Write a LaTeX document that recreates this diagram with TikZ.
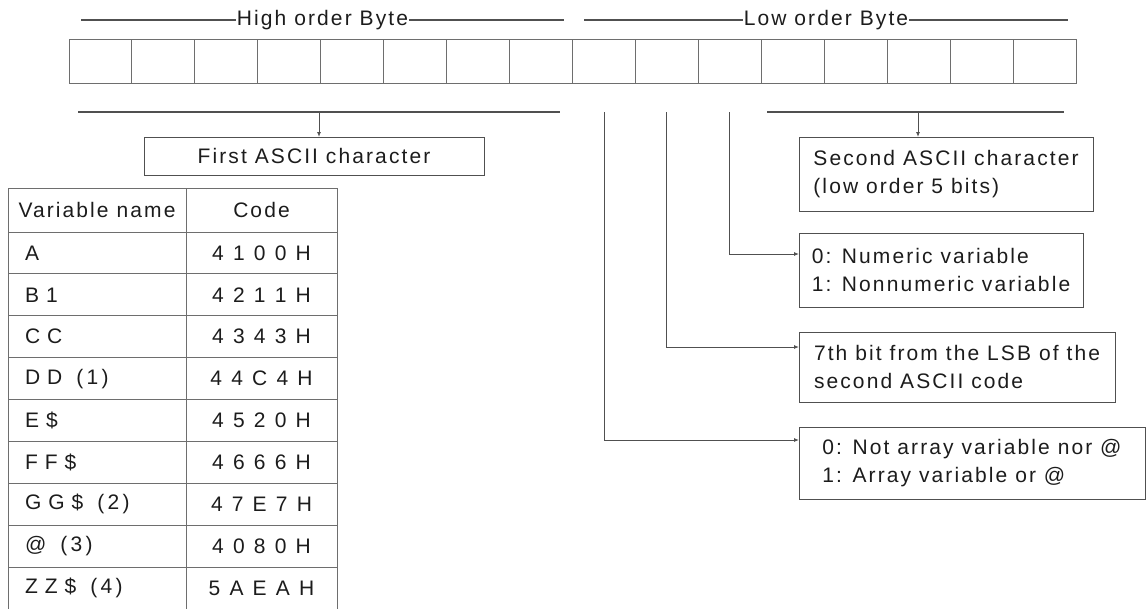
\documentclass[tikz,border=0pt]{standalone}
\usepackage{fontspec}
\setmainfont{Liberation Sans}[LetterSpace=10]
\newfontfamily\tabfont{Liberation Sans}[LetterSpace=16]
\usetikzlibrary{arrows.meta,positioning,calc}
\definecolor{inkline}{HTML}{505050}
\definecolor{gridline}{HTML}{6E6E6E}
\definecolor{inktext}{HTML}{1C1C1C}
\tikzset{
  every node/.style={font=\fontsize{21}{28}\selectfont},
  bitcell/.style={draw=gridline,line width=0.9pt,minimum width=62.94pt,minimum height=44pt,inner sep=0pt,outer sep=0pt},
  bytebar/.style={inkline,line width=1.6pt},
  bytelabel/.style={fill=white,inner xsep=1pt,inner ysep=2pt,text=inktext},
  spanbar/.style={inkline,line width=1.2pt},
  infobox/.style={draw=inkline,line width=0.9pt,align=left,text=inktext,inner sep=0pt,outer sep=0pt},
  tabcell/.style={draw=gridline,line width=0.9pt,inner sep=0pt,outer sep=0pt,anchor=north west,text=inktext},
  namecell/.style={minimum width=178pt,minimum height=41.9pt,text width=144pt,align=left,font=\tabfont\fontsize{21}{28}\selectfont},
  codecell/.style={minimum width=151pt,minimum height=41.9pt,font=\tabfont\fontsize{21}{28}\selectfont},
  arrow/.style={-{Latex[length=5pt,width=4pt]},inkline,line width=0.9pt}
}
\begin{document}
\begin{tikzpicture}[x=1pt,y=-1pt]
  \useasboundingbox (0,0) rectangle (1146,608);

  \foreach \i in {1,...,16}
    \node[bitcell] (b\i) at ({69+62.94*(\i-0.5)},61) {};

  \coordinate (hiL) at (81,20);
  \coordinate (hiR) at (564,20);
  \coordinate (loL) at (584,20);
  \coordinate (loR) at (1068,20);
  \draw[bytebar] (hiL) -- node[bytelabel] (hilabel) {High order Byte} (hiR);
  \draw[bytebar] (loL) -- node[bytelabel] (lolabel) {Low order Byte} (loR);

  \coordinate (hbL) at (78,112);
  \coordinate (hbR) at (560,112);
  \coordinate (lbL) at (767,112);
  \coordinate (lbR) at (1064,112);
  \coordinate (hitick) at (319,112);
  \coordinate (lotick) at (918,112);
  \draw[spanbar] (hbL) -- (hbR);
  \draw[spanbar] (lbL) -- (lbR);

  \node[infobox,minimum width=340pt,minimum height=38pt] (first) at (314,156) {First ASCII character};
  \node[infobox,anchor=north west,minimum width=294pt,minimum height=74pt] (second) at (799,137) {Second ASCII character\\(low order 5 bits)};
  \node[infobox,anchor=north west,minimum width=284pt,minimum height=74pt] (numeric) at (799,233) {0: Numeric variable\\1: Nonnumeric variable};
  \node[infobox,anchor=north west,minimum width=316pt,minimum height=70pt] (seventh) at (799,332) {7th bit from the LSB of the\\second ASCII code};
  \node[infobox,anchor=north west,minimum width=346pt,minimum height=72pt] (arrayflag) at (799,427) {0: Not array variable nor @\\1: Array variable or @};

  \draw[arrow] (hitick) -- (hitick |- first.north);
  \draw[arrow] (lotick) -- (lotick |- second.north);
  \draw[arrow] (b11.south |- hbL) |- ([yshift=-21pt]numeric.north west);
  \draw[arrow] (b10.south |- hbL) |- ([yshift=-15pt]seventh.north west);
  \draw[arrow] (b9.south |- hbL) |- ([yshift=-13pt]arrayflag.north west);

  \node[tabcell,minimum width=178pt,minimum height=44pt] (hname) at (8,188) {Variable name};
  \node[tabcell,minimum width=151pt,minimum height=44pt] (hcode) at (186,188) {Code};
  \foreach \nm/\cd [count=\k from 0] in {A/4 1 0 0 H, B 1/4 2 1 1 H, C C/4 3 4 3 H,
      D D \ (1)/4 4 C 4 H, E \$/4 5 2 0 H, F F \$/4 6 6 6 H, G G \$ \ (2)/4 7 E 7 H,
      @ \ (3)/4 0 8 0 H, Z Z \$ \ (4)/5 A E A H}{
    \node[tabcell,namecell] (n\k) at (8,{232+41.9*\k}) {\nm};
    \node[tabcell,codecell] (c\k) at (186,{232+41.9*\k}) {\cd};
  }
\end{tikzpicture}
\end{document}
